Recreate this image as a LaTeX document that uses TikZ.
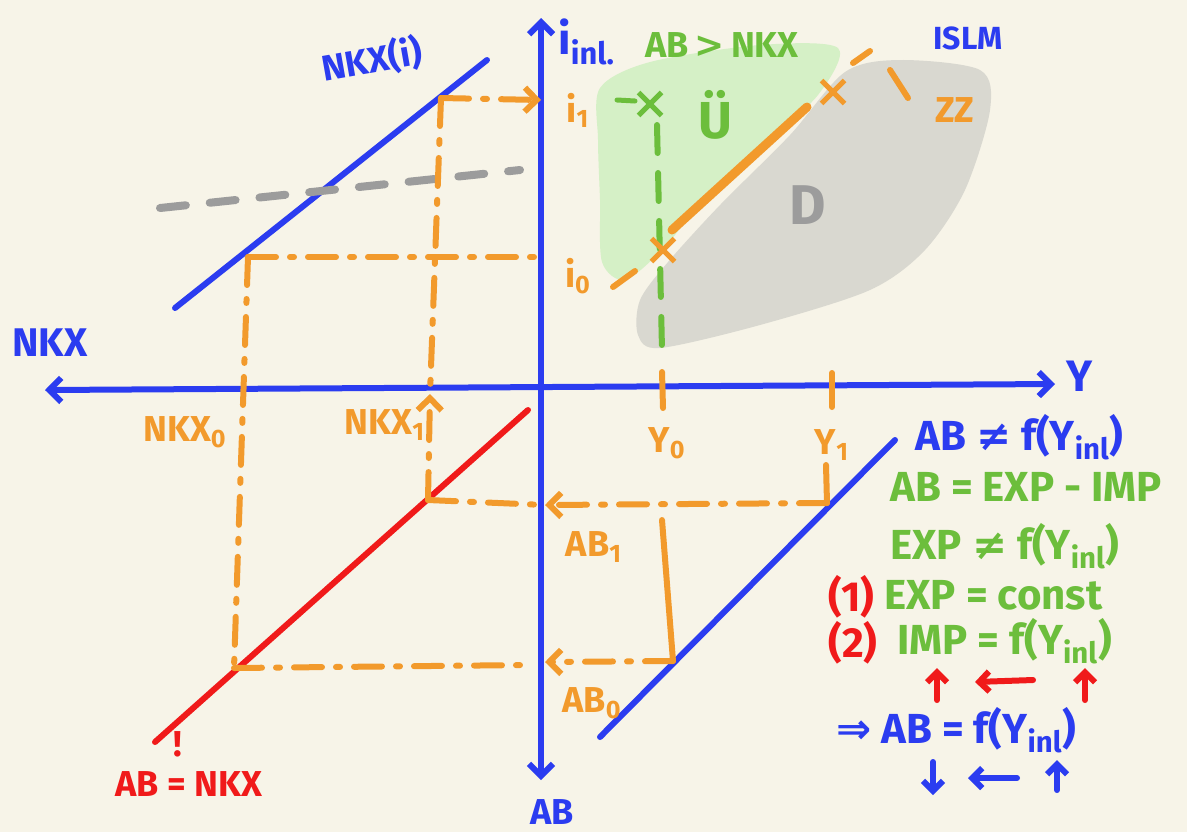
\documentclass[tikz,border=0pt]{standalone}
\usepackage{fontspec}
\setmainfont{Fira Sans}
\newfontfamily\symb{DejaVu Sans}
\usepackage{amssymb}
\usetikzlibrary{arrows.meta,shapes.misc}
\pgfdeclarelayer{arealayer}
\pgfdeclarelayer{edgelayer}
\pgfdeclarelayer{nodelayer}
\pgfsetlayers{arealayer,edgelayer,nodelayer,main}
\definecolor{paper}{HTML}{F7F4E8}
\definecolor{penblue}{HTML}{2B3CF0}
\definecolor{penorange}{HTML}{F29A2C}
\definecolor{pengreen}{HTML}{6CBE3C}
\definecolor{penred}{HTML}{F01A1A}
\definecolor{pengray}{HTML}{9C9C9C}
\definecolor{softgreen}{HTML}{D5F0C6}
\definecolor{softgray}{HTML}{D9D8D0}
\tikzstyle{axis}=[draw=penblue, line width=3pt, line cap=round]
\tikzstyle{curve}=[draw=penblue, line width=3pt, line cap=round]
\tikzstyle{nxline}=[draw=penred, line width=3pt, line cap=round]
\tikzstyle{guide}=[draw=penorange, line width=3pt, line cap=round, dash pattern=on 14pt off 7pt on 2pt off 7pt]
\tikzstyle{isline}=[draw=penorange, line width=4.5pt, line cap=round]
\tikzstyle{tick}=[draw=penorange, line width=3pt, line cap=round]
\tikzstyle{grayline}=[draw=pengray, line width=4pt, line cap=round, dash pattern=on 13pt off 12pt]
\tikzstyle{greenline}=[draw=pengreen, line width=3pt, line cap=round, dash pattern=on 14pt off 10pt]
\tikzstyle{crossmark}=[cross out, draw, line width=2.5pt, minimum size=9pt, inner sep=0pt]
\tikzstyle{tag}=[inner sep=0pt, font=\bfseries\fontsize{18}{20}\selectfont]
\tikzstyle{note}=[inner sep=0pt, anchor=west, font=\bfseries\fontsize{21}{23}\selectfont]
\tikzstyle{hint}=[line width=3pt, line cap=round, -{Straight Barb[length=5pt,width=10pt]}]
\tikzset{>={Straight Barb[length=6pt,width=12pt]}}

\begin{document}
\begin{tikzpicture}[x=0.5pt, y=-0.5pt]
	\useasboundingbox (0,0) rectangle (1187,832);
	\begin{pgfonlayer}{arealayer}
		\fill [paper] (0,0) rectangle (1187,832);
		\fill [softgreen] plot [smooth cycle] coordinates {(600,88) (650,62) (760,45) (838,48) (818,95) (760,148) (700,205) (662,250) (625,280) (602,262) (600,200) (598,140)};
		\fill [softgray] plot [smooth cycle] coordinates {(640,300) (668,262) (720,205) (790,135) (845,72) (900,60) (980,70) (990,110) (965,190) (925,250) (870,290) (760,325) (660,348) (638,335)};
	\end{pgfonlayer}
	\begin{pgfonlayer}{nodelayer}
		% axes
		\coordinate (0) at (541,780);
		\coordinate (1) at (541,18);
		\coordinate (2) at (45,390);
		\coordinate (3) at (1055,384);
		% lines in the quadrants
		\coordinate (4) at (175,308);
		\coordinate (5) at (487,60);
		\coordinate (6) at (155,742);
		\coordinate (7) at (528,410);
		\coordinate (8) at (600,737);
		\coordinate (9) at (895,440);
		\coordinate (10) at (160,208);
		\coordinate (11) at (520,170);
		% construction points
		\coordinate (12) at (441,98);
		\coordinate (13) at (541,100);
		\coordinate (14) at (428,500);
		\coordinate (15) at (545,505);
		\coordinate (16) at (827,503);
		\coordinate (17) at (248,257);
		\coordinate (18) at (541,257);
		\coordinate (19) at (234,668);
		\coordinate (20) at (527,665);
		\coordinate (21) at (673,661);
		\coordinate (22) at (545,662);
		\coordinate (23) at (430,394);
		\coordinate (24) at (662,520);
		\coordinate (25) at (826,465);
		\coordinate (26) at (662,372);
		\coordinate (27) at (663,408);
		\coordinate (28) at (832,373);
		\coordinate (29) at (832,407);
		% IS/LM sketch
		\coordinate (30) at (672,230);
		\coordinate (31) at (807,107);
		\coordinate (32) at (613,287);
		\coordinate (33) at (635,271);
		\coordinate (34) at (853,63);
		\coordinate (35) at (870,51);
		\coordinate (36) at (890,70);
		\coordinate (37) at (908,98);
		\coordinate (38) at (657,125);
		\coordinate (39) at (662,350);
		\coordinate (40) at (617,100);
		\coordinate (41) at (635,101);
		% arrows on the right
		\coordinate (42) at (937,700);
		\coordinate (43) at (937,668);
		\coordinate (44) at (1033,680);
		\coordinate (45) at (975,682);
		\coordinate (46) at (1085,700);
		\coordinate (47) at (1085,668);
		\coordinate (48) at (933,762);
		\coordinate (49) at (933,795);
		\coordinate (50) at (1017,778);
		\coordinate (51) at (968,778);
		\coordinate (52) at (1057,790);
		\coordinate (53) at (1057,760);

		\node [crossmark, penorange] (60) at (663,250) {};
		\node [crossmark, penorange] (61) at (833,92) {};
		\node [crossmark, pengreen] (62) at (650,104) {};

		\node [tag, penblue, anchor=west] (70) at (12,343) {\fontsize{20}{22}\selectfont NKX};
		\node [tag, penblue] (71) at (1080,376) {\fontsize{22}{24}\selectfont Y};
		\node [tag, penblue, anchor=west] (72) at (558,42) {\fontsize{22}{24}\selectfont i\textsubscript{inl.}};
		\node [tag, penblue] (73) at (552,812) {AB};
		\node [tag, penblue, rotate=10] (74) at (372,60) {NKX(i)};
		\node [tag, penblue] (75) at (968,38) {\fontsize{16}{18}\selectfont ISLM};
		\node [tag, penorange] (76) at (578,110) {i\textsubscript{1}};
		\node [tag, penorange] (77) at (578,276) {i\textsubscript{0}};
		\node [tag, penorange] (78) at (185,432) {NKX\textsubscript{0}};
		\node [tag, penorange] (79) at (385,425) {NKX\textsubscript{1}};
		\node [tag, penorange] (80) at (667,443) {Y\textsubscript{0}};
		\node [tag, penorange] (81) at (832,445) {Y\textsubscript{1}};
		\node [tag, penorange] (82) at (594,547) {AB\textsubscript{1}};
		\node [tag, penorange] (83) at (592,703) {AB\textsubscript{0}};
		\node [tag, penorange] (84) at (955,110) {ZZ};
		\node [tag, pengreen] (85) at (722,45) {AB\,{\symb >}\,NKX};
		\node [tag, pengreen] (86) at (715,115) {\fontsize{26}{28}\selectfont Ü};
		\node [tag, pengray] (87) at (808,205) {\fontsize{28}{30}\selectfont D};
		\node [tag, penred, anchor=west] (88) at (115,784) {AB = NKX};
		\node [tag, penred] (89) at (178,744) {!};

		\node [note, penblue] (90) at (915,437) {AB {\symb ≠} f(Y\textsubscript{inl})};
		\node [note, pengreen] (91) at (890,487) {AB = EXP - IMP};
		\node [note, pengreen] (92) at (890,546) {EXP {\symb ≠} f(Y\textsubscript{inl})};
		\node [note, penred] (93) at (828,597) {(1)};
		\node [note, pengreen] (94) at (884,595) {EXP = const};
		\node [note, penred] (95) at (828,643) {(2)};
		\node [note, pengreen] (96) at (897,641) {IMP = f(Y\textsubscript{inl})};
		\node [note, penblue] (97) at (836,730) {{\symb ⇒} AB = f(Y\textsubscript{inl})};
	\end{pgfonlayer}
	\begin{pgfonlayer}{edgelayer}
		\draw [style=axis, <->] (0) to (1);
		\draw [style=axis, <->] (2) to (3);
		\draw [style=curve] (4) to (5);
		\draw [style=nxline] (6) to (7);
		\draw [style=curve] (8) to (9);
		\draw [style=grayline] (10) to (11);
		\draw [style=guide, ->] (12) to (13);
		\draw [style=guide] (12) to (23);
		\draw [style=guide, ->] (14) to (23);
		\draw [style=guide] (14) to (15);
		\draw [style=guide, ->] (16) to (15);
		\draw [style=guide] (17) to (18);
		\draw [style=guide] (17) to (19);
		\draw [style=guide] (19) to (20);
		\draw [style=guide, ->] (21) to (22);
		\draw [style=tick] (24) to (21);
		\draw [style=tick] (25) to (16);
		\draw [style=tick] (26) to (27);
		\draw [style=tick] (28) to (29);
		\draw [style=isline] (30) to (31);
		\draw [style=tick] (32) to (33);
		\draw [style=tick] (34) to (35);
		\draw [style=tick] (36) to (37);
		\draw [style=greenline] (38) to (39);
		\draw [draw=pengreen, line width=2.5pt, line cap=round] (40) to (41);
		\draw [style=hint, penred] (42) to (43);
		\draw [style=hint, penred] (44) to (45);
		\draw [style=hint, penred] (46) to (47);
		\draw [style=hint, penblue] (48) to (49);
		\draw [style=hint, penblue] (50) to (51);
		\draw [style=hint, penblue] (52) to (53);
	\end{pgfonlayer}
\end{tikzpicture}
\end{document}
